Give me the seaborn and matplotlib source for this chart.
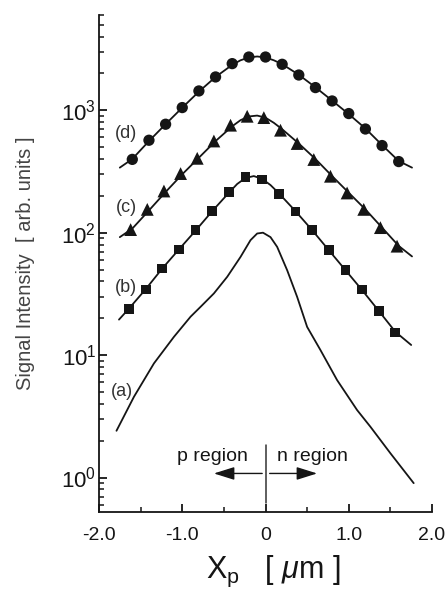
import numpy as np
import pandas as pd
import matplotlib
matplotlib.use("Agg")
import matplotlib.pyplot as plt
import seaborn as sns
from matplotlib.ticker import FixedLocator, FixedFormatter, LogLocator, NullFormatter

# ---- measured profiles -------------------------------------------------
# (d) circles
x_d = [-1.6, -1.4, -1.2, -1.0, -0.8, -0.6, -0.4, -0.2, 0.0, 0.2, 0.4, 0.6, 0.8, 1.0, 1.2, 1.4, 1.6]
y_d = [397, 569, 769, 1052, 1438, 1871, 2404, 2722, 2722, 2374, 1941, 1532, 1191, 940, 703, 515, 381]
# (c) triangles
x_c = [-1.62, -1.42, -1.22, -1.02, -0.82, -0.62, -0.42, -0.22, -0.02, 0.18, 0.38, 0.58, 0.78, 0.98, 1.18, 1.38, 1.58]
y_c = [106, 155, 219, 304, 405, 561, 755, 893, 871, 687, 535, 396, 289, 211, 155, 110, 77.6]
# (b) squares
x_b = [-1.64, -1.44, -1.24, -1.04, -0.84, -0.64, -0.44, -0.24, -0.04, 0.16, 0.36, 0.56, 0.76, 0.96, 1.16, 1.36, 1.56]
y_b = [23.8, 34.4, 51, 72.9, 104.7, 150.6, 215, 285.5, 272, 206, 149, 104.7, 72, 49.4, 34.4, 22.8, 15.3]

# fitted curves through each data set
fx_d = [-1.75, -1.6, -1.4, -1.2, -1.0, -0.8, -0.6, -0.4, -0.3, -0.2, -0.1, 0.0, 0.1, 0.2, 0.4, 0.6, 0.8, 1.0, 1.2, 1.4, 1.6, 1.76]
fy_d = [340, 400, 560, 770, 1050, 1420, 1870, 2350, 2560, 2700, 2750, 2700, 2560, 2380, 1950, 1540, 1200, 930, 710, 520, 385, 340]
fx_c = [-1.75, -1.6, -1.4, -1.2, -1.0, -0.8, -0.6, -0.4, -0.3, -0.2, -0.1, 0.0, 0.1, 0.2, 0.4, 0.6, 0.8, 1.0, 1.2, 1.4, 1.6, 1.76]
fy_c = [92, 108, 152, 215, 300, 410, 560, 740, 830, 890, 905, 870, 790, 700, 535, 400, 290, 212, 155, 110, 78, 64]
fx_b = [-1.76, -1.64, -1.44, -1.24, -1.04, -0.84, -0.64, -0.44, -0.34, -0.24, -0.14, -0.04, 0.06, 0.16, 0.36, 0.56, 0.76, 0.96, 1.16, 1.36, 1.56, 1.75]
fy_b = [19.5, 24, 34.5, 51, 73, 104, 150, 212, 250, 280, 290, 275, 245, 210, 150, 105, 72, 49.5, 34, 23, 15.5, 12.1]

# (a) measured profile, line only
x_a = [-1.79, -1.58, -1.34, -1.10, -0.90, -0.78, -0.62, -0.46, -0.30, -0.18, -0.10, -0.03, 0.06, 0.14, 0.26, 0.38, 0.50, 0.66, 0.86, 1.10, 1.26, 1.50, 1.78]
y_a = [2.41, 4.57, 8.56, 14.1, 20.6, 24.8, 31.9, 43.6, 63.4, 86.9, 98.5, 100, 92, 76.6, 49.4, 29.9, 17.0, 11.0, 6.25, 3.56, 2.60, 1.58, 0.90]

curve_labels = ["(a)", "(b)", "(c)", "(d)"]
label_x = [-1.72, -1.68, -1.67, -1.67]
label_y = [5.0, 36, 161, 649]

x_ticks = [-2.0, -1.0, 0.0, 1.0, 2.0]
x_ticklabels = ["-2.0", "-1.0", "0", "1.0", "2.0"]
y_ticks = [1, 10, 100, 1000]
y_ticklabels = [r"$\mathregular{10^{0}}$", r"$\mathregular{10^{1}}$",
                r"$\mathregular{10^{2}}$", r"$\mathregular{10^{3}}$"]

# ---- style --------------------------------------------------------------
sns.set_style("ticks")
plt.rcParams["font.family"] = ["Liberation Sans", "DejaVu Sans"]
plt.rcParams["mathtext.fontset"] = "custom"
plt.rcParams["mathtext.rm"] = "Liberation Sans"
plt.rcParams["mathtext.it"] = "Liberation Sans:italic"
plt.rcParams["mathtext.sf"] = "Liberation Sans"

ink = "#151515"
fig = plt.figure(figsize=(4.48, 5.90), dpi=100)
ax = fig.add_axes([99 / 448, 1 - 511.7 / 590, 333 / 448, 496.7 / 590])
ax.set_yscale("log")

# fitted lines and measured curve (a)
for fx, fy in [(fx_d, fy_d), (fx_c, fy_c), (fx_b, fy_b), (x_a, y_a)]:
    sns.lineplot(x=fx, y=fy, ax=ax, color=ink, lw=1.3, estimator=None, sort=False)

# data markers
sns.scatterplot(x=x_d, y=y_d, ax=ax, marker="o", s=66, color=ink, edgecolor="none", zorder=3)
sns.scatterplot(x=x_c, y=y_c, ax=ax, marker="^", s=85, color=ink, edgecolor="none", zorder=3)
sns.scatterplot(x=x_b, y=y_b, ax=ax, marker="s", s=50, color=ink, edgecolor="none", zorder=3)

for t, lx, ly in zip(curve_labels, label_x, label_y):
    ax.text(lx, ly, t, ha="center", va="center", fontsize=13, color="#333333")

# junction marker and region arrows
ax.plot([0, 0], [0.615, 1.84], color="#333333", lw=1.1)
ax.annotate("", xy=(-0.62, 1.08), xytext=(-0.04, 1.08),
            arrowprops=dict(arrowstyle="-|>,head_length=0.7,head_width=0.22",
                            color=ink, lw=1.0, mutation_scale=18, shrinkA=0, shrinkB=0))
ax.annotate("", xy=(0.62, 1.08), xytext=(0.05, 1.08),
            arrowprops=dict(arrowstyle="-|>,head_length=0.7,head_width=0.22",
                            color=ink, lw=1.0, mutation_scale=18, shrinkA=0, shrinkB=0))
ax.text(-0.64, 1.37, "p region", ha="center", va="baseline", fontsize=14, color=ink)
ax.text(0.56, 1.37, "n region", ha="center", va="baseline", fontsize=14, color=ink)

# axes
ax.set_xlim(-2.0, 2.0)
ax.set_ylim(0.526, 6000)
sns.despine(ax=ax)
for s in ("left", "bottom"):
    ax.spines[s].set_linewidth(1.3)
    ax.spines[s].set_color(ink)

ax.xaxis.set_major_locator(FixedLocator(x_ticks))
ax.xaxis.set_major_formatter(FixedFormatter(x_ticklabels))
ax.xaxis.set_minor_locator(FixedLocator([-1.5, -0.5, 0.5, 1.5]))
ax.yaxis.set_major_locator(FixedLocator(y_ticks))
ax.yaxis.set_major_formatter(FixedFormatter(y_ticklabels))
ax.yaxis.set_minor_locator(LogLocator(base=10, subs=np.arange(2, 10), numticks=20))
ax.yaxis.set_minor_formatter(NullFormatter())

ax.tick_params(axis="both", which="major", direction="in", length=6, width=1.3,
               color=ink, labelcolor=ink)
ax.tick_params(axis="both", which="minor", direction="in", length=3.5, width=1.1, color=ink)
ax.tick_params(axis="x", which="major", labelsize=14, pad=11)
ax.tick_params(axis="y", which="major", labelsize=16, pad=2)

ax.set_xlabel(r"X$_{\mathregular{p}}$   [ $\mathit{\mu}$m ]", fontsize=22, color=ink, labelpad=4)
ax.xaxis.set_label_coords(0.525, -0.085)
ax.set_ylabel("Signal Intensity  [ arb. units ]", fontsize=14.5, color="#444444", labelpad=19)

fig.savefig("out.png", dpi=100)
